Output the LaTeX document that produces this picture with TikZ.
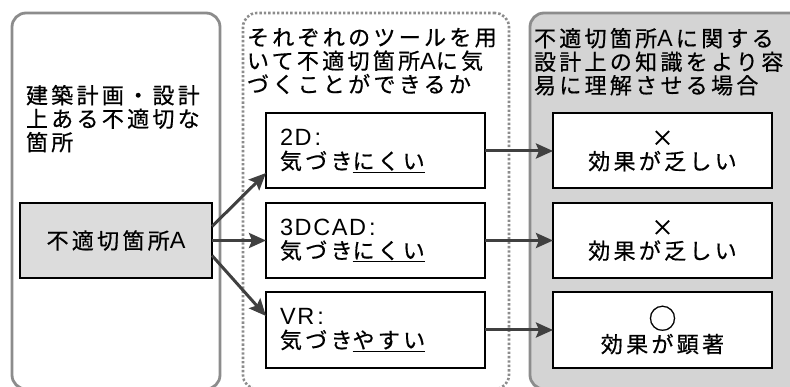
\documentclass[tikz,border=0pt]{standalone}
\usepackage{fontspec}
\setmainfont{Noto Sans CJK JP}[LetterSpace=15,FakeBold=0.6]
\newfontfamily\lat{Liberation Sans}[LetterSpace=7]
\newcommand{\la}[1]{{\lat\fontsize{23.5}{23.5}\selectfont #1}}
\newcommand{\lacol}[1]{{\lat\fontsize{23.5}{23.5}\selectfont #1\hspace{3pt}:}}
\usetikzlibrary{arrows.meta,calc}
\definecolor{pborder}{HTML}{8C8C8C}
\definecolor{pfill}{HTML}{D4D4D4}
\definecolor{afill}{HTML}{DCDCDC}
\definecolor{arrcol}{HTML}{404040}
\begin{document}
\begin{tikzpicture}[x=1pt,y=-1pt,
  every node/.style={inner sep=0pt, outer sep=0pt, font=\fontsize{22}{23.5}\selectfont},
  panel/.style={draw=pborder, line width=2.8pt, rounded corners=14pt, anchor=north west},
  dotpanel/.style={draw=pborder, line width=2.6pt, dash pattern=on 2.4pt off 2pt, rounded corners=14pt, anchor=north west},
  header/.style={anchor=north west, align=left},
  boxl/.style={draw=black, line width=2pt, fill=white, minimum width=219pt, minimum height=75pt, text width=191pt, align=left},
  boxc/.style={draw=black, line width=2pt, fill=white, minimum width=219pt, minimum height=75pt, text width=191pt, align=center},
  arr/.style={draw=arrcol, line width=3pt, -{Stealth[length=17pt,width=15pt,inset=3pt]}}
]
\useasboundingbox (0,0) rectangle (790,387);
\node[panel, minimum width=208pt, minimum height=376pt] (p1) at (12,13) {};
\node[dotpanel, minimum width=266pt, minimum height=376pt] (p2) at (243,13) {};
\node[panel, fill=pfill, minimum width=280pt, minimum height=376pt] (p3) at (530,13) {};

\node[header] (h1) at (26,85) {建築計画・設計\\上ある不適切な\\箇所};
\node[header] (h2) at (247,28) {それぞれのツールを用\\いて不適切箇所\la{A}に気\\づくことができるか};
\node[header] (h3) at (534,28) {不適切箇所\la{A}\hspace{3pt}に関する\\設計上の知識をより容\\易に理解させる場合};

\node[draw=black, line width=2pt, fill=afill, minimum width=192pt, minimum height=75pt] (A) at (116,240.5) {不適切箇所\la{A}};

\node[boxl] (b1) at (375.5,151) {\lacol{2D}\\気づき\underline{にくい}};
\node[boxl] (b2) at (375.5,240.5) {\lacol{3DCAD}\\気づき\underline{にくい}};
\node[boxl] (b3) at (375.5,330) {\lacol{VR}\\気づき\underline{やすい}};

\node[boxc] (c1) at (662.5,151) {×\\効果が乏しい};
\node[boxc] (c2) at (662.5,240.5) {×\\効果が乏しい};
\node[boxc] (c3) at (662.5,330) {{\fontsize{28}{23.5}\selectfont ○}\\効果が顕著};

\draw[arr] ($(A.east)+(0,-14)$) -- ($(b1.west)+(0,22)$);
\draw[arr] (A.east) -- (b2.west);
\draw[arr] ($(A.east)+(0,15)$) -- ($(b3.west)+(0,-14)$);
\draw[arr] (b1.east) -- (c1.west);
\draw[arr] (b2.east) -- (c2.west);
\draw[arr] (b3.east) -- (c3.west);
\end{tikzpicture}
\end{document}
